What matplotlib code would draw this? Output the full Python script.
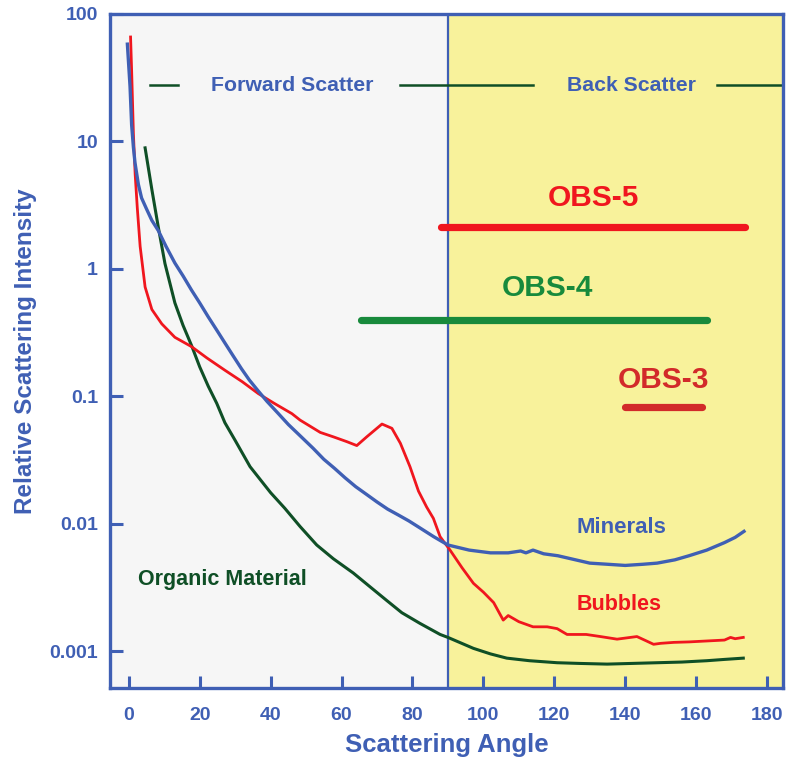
import matplotlib
matplotlib.use("Agg")
import matplotlib.pyplot as plt

# ---------------- data ----------------
minerals_angle = [-0.4, 0.35, 0.8, 1.3, 1.75, 2.7, 3.6, 5, 6.5, 8.3, 10.5, 13, 15.3, 17.7, 20, 22.4, 25,
                  27.1, 29.5, 31.8, 34, 36.5, 39, 42, 45, 48.3, 52, 55, 58, 61, 64, 67, 70, 73, 76, 79,
                  82, 86, 90, 96, 102, 107, 110.5, 112, 114, 117, 121, 126, 130, 135, 140, 145, 149, 154,
                  158, 163, 168, 171, 173.5]
minerals_val = [58, 27, 13.5, 9, 6.8, 4.6, 3.6, 2.95, 2.4, 2.0, 1.5, 1.11, 0.88, 0.68, 0.54, 0.42, 0.324,
                0.262, 0.206, 0.164, 0.134, 0.110, 0.091, 0.074, 0.060, 0.049, 0.039, 0.032, 0.0272,
                0.0229, 0.0195, 0.017, 0.0148, 0.013, 0.0117, 0.0105, 0.0093, 0.0079, 0.0068, 0.0062,
                0.0059, 0.0059, 0.0061, 0.0059, 0.0062, 0.0058, 0.0056, 0.0052, 0.0049, 0.0048, 0.0047,
                0.0048, 0.0049, 0.0052, 0.0056, 0.0062, 0.0071, 0.0078, 0.0087]

bubbles_angle = [0.5, 0.8, 1.3, 1.8, 2.4, 3.2, 4.6, 6.5, 9.3, 13, 17.7, 22, 27.1, 32, 36.5, 41, 46, 48.3,
                 54, 57.7, 61.5, 64.3, 67.1, 71.4, 74.2, 76.6, 79.3, 81.7, 84, 85.9, 87.8, 90.6, 94, 97.2,
                 100, 102.9, 105.6, 107, 110, 114, 118, 120.8, 123.6, 129, 133, 137.7, 143.3, 146, 148,
                 150, 153.7, 158, 163, 168, 169.7, 171, 173.3]
bubbles_val = [66, 36, 11.5, 5.5, 3.0, 1.5, 0.72, 0.48, 0.37, 0.29, 0.245, 0.2, 0.16, 0.13, 0.105, 0.088,
               0.073, 0.065, 0.052, 0.048, 0.044, 0.041, 0.048, 0.0605, 0.056, 0.0427, 0.028, 0.018,
               0.0135, 0.011, 0.0079, 0.0062, 0.0045, 0.0034, 0.0029, 0.0024, 0.00175, 0.0019, 0.0017,
               0.00155, 0.00155, 0.0015, 0.00135, 0.00135, 0.0013, 0.00124, 0.0013, 0.0012, 0.00113,
               0.00115, 0.00117, 0.00118, 0.0012, 0.00122, 0.00128, 0.00125, 0.00128]

organic_angle = [4.6, 6.5, 8.3, 10.2, 13, 15.3, 17.7, 20, 22.4, 24.8, 27.1, 30, 34.2, 40, 44, 48.3, 53,
                 57.7, 63.3, 68, 72.7, 77, 82.1, 87.8, 90, 97.2, 102, 106.6, 113, 120.8, 127, 134.9, 142,
                 149, 156, 163, 168, 173.3]
organic_val = [8.9, 4.2, 2.14, 1.1, 0.54, 0.36, 0.25, 0.17, 0.12, 0.088, 0.062, 0.045, 0.028, 0.0175,
               0.0132, 0.0095, 0.0068, 0.0053, 0.0041, 0.0032, 0.0025, 0.002, 0.00165, 0.00135, 0.00128,
               0.00105, 0.00095, 0.00088, 0.00084, 0.00081, 0.0008, 0.00079, 0.0008, 0.00081, 0.00082,
               0.00084, 0.00086, 0.00088]

sensor_names = ["OBS-5", "OBS-4", "OBS-3"]
sensor_start = [88, 65.5, 140]
sensor_end = [173.7, 163, 161.6]
sensor_level = [2.13, 0.40, 0.082]

x_ticks = [0, 20, 40, 60, 80, 100, 120, 140, 160, 180]
y_ticks = [0.001, 0.01, 0.1, 1, 10, 100]
y_tick_labels = ["0.001", "0.01", "0.1", "1", "10", "100"]

# ---------------- style ----------------
BLUE = "#3f5fb4"
RED = "#f0161e"
DKGREEN = "#0f4f26"
OBS4_GREEN = "#188a3c"
OBS3_RED = "#d22a2a"
FONT = "Liberation Sans"

plt.rcParams["font.family"] = [FONT, "DejaVu Sans"]
plt.rcParams["font.weight"] = "bold"

fig = plt.figure(figsize=(7.86, 7.62), dpi=100)
ax = fig.add_axes([110 / 786, 74 / 762, 673 / 786, 674 / 762])

xmin, xmax = -5.3, 184.5
ymin, ymax = 0.000513, 100
ax.set_xlim(xmin, xmax)
ax.set_yscale("log")
ax.set_ylim(ymin, ymax)

ax.axvspan(xmin, 90, color="#f6f6f6", zorder=0, lw=0)
ax.axvspan(90, xmax, color="#f8f29b", zorder=0, lw=0)
ax.axvline(90, color=BLUE, lw=1.6, zorder=1)

ax.plot(organic_angle, organic_val, color=DKGREEN, lw=2.2, zorder=3, solid_joinstyle="round")
ax.plot(bubbles_angle, bubbles_val, color=RED, lw=2.0, zorder=4, solid_joinstyle="round")
ax.plot(minerals_angle, minerals_val, color=BLUE, lw=2.4, zorder=5, solid_joinstyle="round")

sensor_colors = [RED, OBS4_GREEN, OBS3_RED]
for name, s, e, lvl, c in zip(sensor_names, sensor_start, sensor_end, sensor_level, sensor_colors):
    ax.plot([s, e], [lvl, lvl], color=c, lw=5.2, solid_capstyle="round", zorder=6)

ax.text(131, 3.6, "OBS-5", color=RED, fontsize=21.5, fontweight="bold", ha="center", va="center")
ax.text(118, 0.71, "OBS-4", color=OBS4_GREEN, fontsize=21.5, fontweight="bold", ha="center", va="center")
ax.text(150.7, 0.134, "OBS-3", color=OBS3_RED, fontsize=21.5, fontweight="bold", ha="center", va="center")

ax.text(139, 0.0093, "Minerals", color=BLUE, fontsize=16, fontweight="bold", ha="center", va="center")
ax.text(138.3, 0.0023, "Bubbles", color=RED, fontsize=15.5, fontweight="bold", ha="center", va="center")
ax.text(26.3, 0.00367, "Organic Material", color=DKGREEN, fontsize=15.5, fontweight="bold",
        ha="center", va="center")

# header
hdr_y = 27.7
ax.plot([6, 14], [hdr_y, hdr_y], color=DKGREEN, lw=1.8, zorder=2)
ax.plot([76.5, 114], [hdr_y, hdr_y], color=DKGREEN, lw=1.8, zorder=2)
ax.plot([166, 184], [hdr_y, hdr_y], color=DKGREEN, lw=1.8, zorder=2)
ax.text(46.2, hdr_y, "Forward Scatter", color=BLUE, fontsize=15.3, fontweight="bold", ha="center", va="center")
ax.text(141.8, hdr_y, "Back Scatter", color=BLUE, fontsize=15.3, fontweight="bold", ha="center", va="center")

# axes styling
for sp in ax.spines.values():
    sp.set_color(BLUE)
    sp.set_linewidth(2.4)
ax.set_xticks(x_ticks)
ax.set_xticklabels([str(t) for t in x_ticks])
ax.set_yticks(y_ticks)
ax.set_yticklabels(y_tick_labels)
ax.minorticks_off()
ax.tick_params(axis="both", direction="in", length=9, width=2.2, color=BLUE, labelcolor=BLUE,
               labelsize=14)
ax.tick_params(axis="x", pad=13.5)
ax.tick_params(axis="y", pad=8.6)
for lab in ax.get_xticklabels() + ax.get_yticklabels():
    lab.set_fontweight("bold")

ax.set_xlabel("Scattering Angle", color=BLUE, fontsize=18.5, fontweight="bold", labelpad=7)
ax.set_ylabel("Relative Scattering Intensity", color=BLUE, fontsize=17.5, fontweight="bold", labelpad=9)

fig.savefig("out.png", dpi=100, facecolor="white")
